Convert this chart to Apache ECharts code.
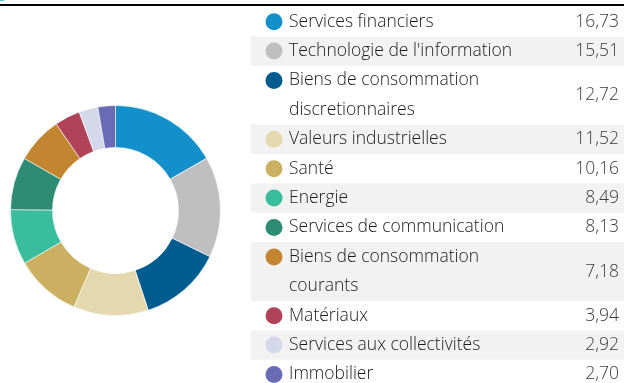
<!DOCTYPE html>
<html>
<head>
<meta charset="utf-8">
<script src="https://cdn.jsdelivr.net/npm/echarts@6/dist/echarts.min.js"></script>
<style>
  html, body { margin: 0; padding: 0; background: #fff; }
  #chart { width: 624px; height: 383px; }
</style>
</head>
<body>
<div id="chart"></div>
<script>
// Sector allocation (%)
const sectors = [
  'Services financiers',
  "Technologie de l'information",
  'Biens de consommation\ndiscretionnaires',
  'Valeurs industrielles',
  'Santé',
  'Energie',
  'Services de communication',
  'Biens de consommation\ncourants',
  'Matériaux',
  'Services aux collectivités',
  'Immobilier'
];
const weights = [16.73, 15.51, 12.72, 11.52, 10.16, 8.49, 8.13, 7.18, 3.94, 2.92, 2.70];
const sectorColors = [
  '#1390c9', '#bfbfbf', '#005b8f', '#e4d9ae', '#cab060', '#3abd9c',
  '#2d8c73', '#c28530', '#b0425a', '#d5d8ea', '#6a6bb5'
];

const FONT = '"Open Sans", "Noto Sans", sans-serif';
const fmt = v => v.toFixed(2).replace('.', ',');

// Legend table layout
const tableLeft = 251;
const tableRight = 624;
const tableTop = 7;
const lineH = 29.4;
const swatchX = 274;
const textX = 289;
const valueX = 619;

const graphics = [
  { type: 'rect', shape: { x: 0, y: 4, width: 624, height: 2 }, style: { fill: '#000' } },
  { type: 'rect', shape: { x: 0, y: 0, width: 4, height: 1 }, style: { fill: '#5bbbe8' } }
];

let y = tableTop;
sectors.forEach((name, i) => {
  const lines = name.split('\n');
  const h = lines.length * lineH;
  if (i % 2 === 1) {
    graphics.push({
      type: 'rect', z: 0,
      shape: { x: tableLeft, y: y, width: tableRight - tableLeft, height: h },
      style: { fill: '#f2f2f2' }
    });
  }
  graphics.push({
    type: 'circle', z: 2,
    shape: { cx: swatchX, cy: y + lineH / 2, r: 8.5 },
    style: { fill: sectorColors[i] }
  });
  lines.forEach((ln, k) => {
    graphics.push({
      type: 'text', z: 2,
      style: {
        x: textX, y: y + lineH / 2 + k * lineH, text: ln,
        font: '300 17.5px ' + FONT, fill: '#1a1a1a',
        textAlign: 'left', textVerticalAlign: 'middle'
      }
    });
  });
  graphics.push({
    type: 'text', z: 2,
    style: {
      x: valueX, y: y + h / 2, text: fmt(weights[i]),
      font: '300 17.5px ' + FONT, fill: '#3a3a3a',
      textAlign: 'right', textVerticalAlign: 'middle'
    }
  });
  y += h;
});

const chart = echarts.init(document.getElementById('chart'), null, { renderer: 'canvas' });
chart.setOption({
  animation: false,
  color: sectorColors,
  graphic: graphics,
  series: [{
    type: 'pie',
    center: [115.5, 210.5],
    radius: [63, 105],
    startAngle: 90,
    clockwise: true,
    label: { show: false },
    labelLine: { show: false },
    itemStyle: { borderColor: '#fff', borderWidth: 0.6 },
    emphasis: { disabled: true },
    data: sectors.map((n, i) => ({ name: n, value: weights[i] }))
  }]
});
</script>
</body>
</html>
